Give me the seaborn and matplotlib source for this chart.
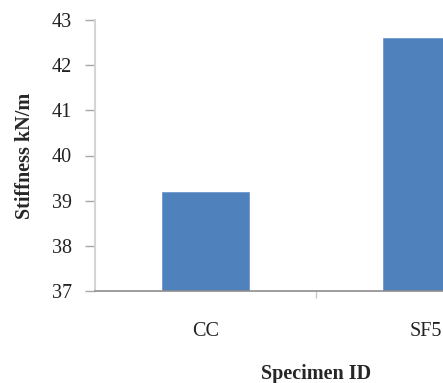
import matplotlib
matplotlib.use("Agg")
import matplotlib.pyplot as plt
import seaborn as sns
import pandas as pd
from matplotlib.ticker import FixedLocator

# Specimen stiffness values
specimens = ["CC", "SF5"]
stiffness = [39.2, 42.6]
y_ticks = [37, 38, 39, 40, 41, 42, 43]

df = pd.DataFrame({"Specimen ID": specimens, "Stiffness": stiffness})

sns.set_theme(style="white")
plt.rcParams["font.family"] = ["Liberation Serif", "DejaVu Serif"]

fig = plt.figure(figsize=(4.43, 3.83), dpi=100)
# Plot area is wider than the canvas, so the right part is clipped
W, H = 443, 383
ax = fig.add_axes([95.3 / W, (H - 291) / H, 441 / W, 271 / H])

sns.barplot(data=df, x="Specimen ID", y="Stiffness", color="#4F81BD",
            width=0.395, saturation=1, ax=ax, edgecolor="#6F98CC", linewidth=0.6)

ax.set_ylim(37, 43)
ax.set_xlim(-0.5, 1.5)
ax.set_yticks(y_ticks)
ax.set_yticklabels([str(t) for t in y_ticks], fontsize=14.5, color="#222222")

ax.xaxis.set_minor_locator(FixedLocator([0.5]))
ax.tick_params(axis="x", which="major", length=0, pad=22, labelsize=14.5, labelcolor="#222222")
ax.tick_params(axis="x", which="minor", length=5, width=1, color="#C8C8C8", direction="out", bottom=True)
ax.tick_params(axis="y", which="major", length=7, width=1, color="#A8A8A8", direction="out", left=True, pad=10)

for side in ["top", "right"]:
    ax.spines[side].set_visible(False)
ax.spines["left"].set_color("#D4D4D4")
ax.spines["left"].set_linewidth(1.5)
ax.spines["bottom"].set_color("#8C8C8C")
ax.spines["bottom"].set_linewidth(1.2)

ax.set_xlabel("Specimen ID", fontsize=14.5, fontweight="bold", labelpad=17)
ax.set_ylabel("Stiffness kN/m", fontsize=14.5, fontweight="bold", labelpad=12)

fig.savefig("out.png", dpi=100)
